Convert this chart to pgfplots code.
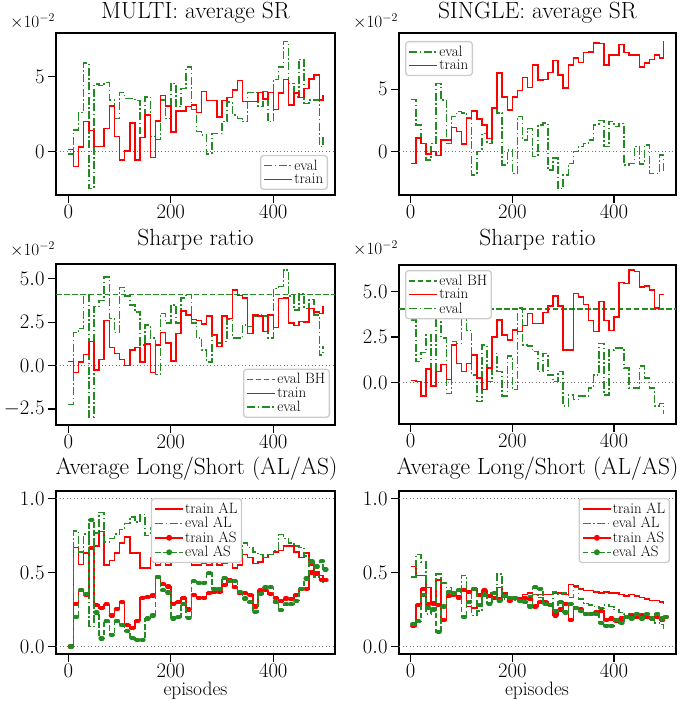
\documentclass[border=0pt]{standalone}
\usepackage{pgfplots}
\pgfplotsset{compat=1.18}
\usepackage{pgfplotstable}
\definecolor{mgreen}{RGB}{34,139,34}
\definecolor{mred}{RGB}{255,0,0}

% ---------------- data (values of SR in units of 1e-2) ----------------
\pgfplotstableread{
x y
0 0.15
10 -1.0
20 0.3
30 2.0
40 1.4
50 0.35
60 0.35
70 1.55
80 3.05
90 1.0
100 -0.55
110 0.05
120 1.9
130 -0.55
140 0.95
150 2.45
160 -0.4
170 2.05
180 3.75
190 3.05
200 1.3
210 2.7
220 2.7
230 3.0
240 3.1
250 2.6
260 4.0
270 3.4
280 3.4
290 2.3
300 3.4
310 3.6
320 4.1
330 4.75
340 3.35
350 3.35
360 3.35
370 3.95
380 3.5
390 3.95
400 2.8
410 3.9
420 4.8
430 3.1
440 3.9
450 3.6
460 4.2
470 4.85
480 5.1
490 3.45
497 3.75
}\PAtrain
\pgfplotstableread{
x y
0 -0.15
10 1.45
20 2.6
30 5.9
40 -2.45
50 4.5
60 4.4
70 4.6
80 3.45
90 2.2
100 3.95
110 3.55
120 3.55
130 3.4
140 1.2
150 3.65
160 1.0
170 0.8
180 3.45
190 2.2
200 4.55
210 3.0
220 4.2
230 5.65
240 2.8
250 1.35
260 1.1
270 -0.15
280 1.2
290 1.2
300 2.0
310 3.3
320 2.45
330 2.2
340 2.0
350 3.95
360 3.95
370 3.0
380 4.0
390 2.0
400 4.8
410 5.65
420 7.35
430 4.55
440 3.65
450 6.15
460 3.2
470 3.45
480 3.45
490 0.35
497 0.95
}\PAeval
\pgfplotstableread{
x y
0 -0.95
10 1.1
20 0.65
30 -0.2
40 0.0
50 -0.3
60 0.95
70 0.95
80 1.95
90 1.6
100 0.6
110 2.65
120 3.25
130 2.6
140 2.15
150 1.05
160 3.5
170 6.3
180 4.4
190 3.35
200 4.4
210 4.9
220 5.95
230 5.15
240 6.95
250 5.75
260 5.8
270 6.35
280 7.3
290 6.15
300 5.1
310 6.95
320 7.5
330 7.15
340 7.95
350 8.0
360 8.7
370 8.65
380 6.95
390 7.75
400 7.75
410 8.6
420 7.95
430 7.75
440 7.75
450 6.8
460 7.1
470 7.4
480 7.75
490 7.5
497 8.9
}\PBtrain
\pgfplotstableread{
x y
0 4.2
10 2.15
20 0.65
30 -0.65
40 0.65
50 5.45
60 4.15
70 0.65
80 2.8
90 3.2
100 3.1
110 2.7
120 -1.85
130 0.0
140 1.45
150 0.65
160 3.5
170 3.1
180 -1.05
190 0.15
200 -1.75
210 2.8
220 0.95
230 1.85
240 -0.4
250 2.15
260 2.3
270 -1.45
280 -0.5
290 -2.95
300 -1.85
310 -0.95
320 0.0
330 0.4
340 0.65
350 0.95
360 2.15
370 2.5
380 0.4
390 2.4
400 2.0
410 2.25
420 -1.05
430 -0.95
440 0.4
450 -1.0
460 0.55
470 -1.75
480 -1.75
490 -0.25
497 -1.6
}\PBeval
\pgfplotstableread{
x y
0 0.23
10 -0.4
20 0.2
30 0.65
40 1.4
50 -0.25
60 0.35
70 2.6
80 1.05
90 0.7
100 0.35
110 0.0
120 0.9
130 1.05
140 0.2
150 1.25
160 -0.4
170 1.2
180 1.9
190 1.3
200 0.27
210 1.85
220 3.15
230 2.9
240 2.65
250 2.6
260 2.4
270 2.85
280 1.8
290 1.1
300 2.85
310 2.7
320 4.35
330 4.05
340 3.9
350 1.85
360 2.9
370 2.85
380 1.95
390 2.9
400 2.2
410 3.85
420 3.9
430 2.45
440 2.3
450 2.55
460 2.5
470 3.3
480 3.1
490 3.0
497 3.45
}\PCtrain
\pgfplotstableread{
x y
0 -2.25
10 1.9
20 2.15
30 4.1
40 -2.95
50 3.4
60 3.75
70 5.1
80 2.7
90 1.9
100 4.5
110 4.0
120 3.5
130 3.1
140 1.2
150 2.35
160 1.6
170 -0.5
180 3.0
190 2.45
200 3.5
210 2.45
220 3.9
230 4.1
240 2.45
250 1.6
260 0.9
270 0.2
280 1.75
290 1.3
300 1.4
310 2.65
320 1.6
330 1.6
340 2.35
350 2.25
360 2.85
370 2.9
380 2.85
390 1.6
400 4.45
410 4.55
420 5.5
430 4.0
440 3.2
450 4.15
460 3.3
470 3.8
480 2.9
490 0.6
497 1.1
}\PCeval
\pgfplotstableread{
x y
0 0.1
10 0.05
20 -0.75
30 0.75
40 -0.2
50 0.6
60 1.0
70 0.15
80 2.05
90 1.05
100 0.6
110 1.05
120 1.5
130 0.25
140 -0.4
150 0.8
160 2.5
170 3.45
180 2.6
190 2.35
200 2.9
210 2.8
220 3.15
230 3.8
240 3.25
250 3.25
260 3.85
270 4.2
280 4.75
290 4.2
300 1.8
310 1.8
320 4.9
330 4.7
340 4.3
350 3.4
360 2.8
370 4.45
380 3.4
390 2.85
400 3.6
410 5.5
420 5.45
430 6.2
440 6.1
450 5.25
460 5.3
470 5.1
480 4.1
490 4.85
497 4.8
}\PDtrain
\pgfplotstableread{
x y
0 3.45
10 1.15
20 1.65
30 2.6
40 -0.2
50 4.55
60 2.45
70 -0.6
80 2.25
90 2.15
100 3.85
110 2.85
120 0.4
130 -1.05
140 2.05
150 0.05
160 1.6
170 0.6
180 -0.75
190 1.45
200 -0.4
210 4.1
220 2.05
230 2.0
240 1.7
250 0.6
260 1.6
270 0.4
280 0.05
290 0.6
300 -1.3
310 -0.7
320 -0.95
330 -0.75
340 -0.75
350 -0.3
360 0.4
370 2.15
380 -0.7
390 1.8
400 1.9
410 1.9
420 0.8
430 -0.3
440 -0.3
450 0.9
460 0.25
470 -0.3
480 -1.3
490 -1.15
497 -1.75
}\PDeval
% ---------------- Long / Short ----------------
\pgfplotstableread{
x y
0 0.0
10 0.67
20 0.555
30 0.63
40 0.665
50 0.68
60 0.775
70 0.55
80 0.58
90 0.63
100 0.70
110 0.74
120 0.63
130 0.63
140 0.53
150 0.53
160 0.6
170 0.55
180 0.58
190 0.55
200 0.6
210 0.62
220 0.64
230 0.6
240 0.55
250 0.55
260 0.56
270 0.55
280 0.57
290 0.55
300 0.56
310 0.57
320 0.53
330 0.55
340 0.62
350 0.6
360 0.56
370 0.57
380 0.6
390 0.62
400 0.64
410 0.65
420 0.68
430 0.68
440 0.64
450 0.6
460 0.63
470 0.55
480 0.505
490 0.48
497 0.45
}\PEtrainAL
\pgfplotstableread{
x y
0 0.0
10 0.78
20 0.64
30 0.76
40 0.135
50 0.765
60 0.905
70 0.705
80 0.73
90 0.76
100 0.79
110 0.83
120 0.875
130 0.84
140 0.89
150 0.75
160 0.8
170 0.78
180 0.76
190 0.75
200 0.72
210 0.74
220 0.75
230 0.7
240 0.65
250 0.62
260 0.6
270 0.6
280 0.62
290 0.6
300 0.58
310 0.6
320 0.6
330 0.61
340 0.7
350 0.67
360 0.64
370 0.62
380 0.6
390 0.62
400 0.65
410 0.755
420 0.73
430 0.7
440 0.68
450 0.67
460 0.61
470 0.56
480 0.47
490 0.45
497 0.43
}\PEevalAL
\pgfplotstableread{
x y
0 0.0
10 0.29
20 0.38
30 0.35
40 0.665
50 0.28
60 0.26
70 0.285
80 0.21
90 0.255
100 0.3
110 0.145
120 0.125
130 0.175
140 0.33
150 0.335
160 0.345
170 0.47
180 0.42
190 0.405
200 0.29
210 0.3
220 0.33
230 0.25
240 0.35
250 0.33
260 0.33
270 0.36
280 0.37
290 0.37
300 0.415
310 0.45
320 0.4
330 0.36
340 0.36
350 0.35
360 0.27
370 0.38
380 0.38
390 0.355
400 0.33
410 0.305
420 0.325
430 0.32
440 0.35
450 0.39
460 0.39
470 0.5
480 0.49
490 0.45
497 0.45
}\PEtrainAS
\pgfplotstableread{
x y
0 0.0
10 0.2
20 0.38
30 0.355
40 0.855
50 0.23
60 0.055
70 0.175
80 0.08
90 0.175
100 0.145
110 0.105
120 0.06
130 0.045
140 0.045
150 0.19
160 0.21
170 0.47
180 0.38
190 0.365
200 0.19
210 0.2
220 0.29
230 0.195
240 0.44
250 0.43
260 0.43
270 0.495
280 0.39
290 0.39
300 0.465
310 0.44
320 0.44
330 0.37
340 0.325
350 0.3
360 0.235
370 0.355
380 0.4
390 0.4
400 0.3
410 0.245
420 0.285
430 0.285
440 0.31
450 0.39
460 0.46
470 0.575
480 0.54
490 0.575
497 0.52
}\PEevalAS
\pgfplotstableread{
x y
0 0.54
10 0.48
20 0.48
30 0.40
40 0.30
50 0.45
60 0.18
70 0.34
80 0.35
90 0.34
100 0.38
110 0.27
120 0.26
130 0.27
140 0.38
150 0.33
160 0.32
170 0.40
180 0.36
190 0.33
200 0.33
210 0.33
220 0.35
230 0.36
240 0.35
250 0.35
260 0.35
270 0.35
280 0.36
290 0.36
300 0.35
310 0.42
320 0.41
330 0.39
340 0.38
350 0.38
360 0.37
370 0.36
380 0.37
390 0.36
400 0.36
410 0.35
420 0.34
430 0.35
440 0.34
450 0.33
460 0.32
470 0.31
480 0.31
490 0.30
497 0.29
}\PFtrainAL
\pgfplotstableread{
x y
0 0.47
10 0.62
20 0.57
30 0.22
40 0.25
50 0.49
60 0.43
70 0.40
80 0.37
90 0.37
100 0.48
110 0.36
120 0.21
130 0.24
140 0.37
150 0.36
160 0.36
170 0.49
180 0.32
190 0.33
200 0.31
210 0.32
220 0.33
230 0.34
240 0.35
250 0.33
260 0.31
270 0.29
280 0.37
290 0.35
300 0.36
310 0.33
320 0.40
330 0.32
340 0.29
350 0.28
360 0.27
370 0.26
380 0.28
390 0.27
400 0.25
410 0.23
420 0.22
430 0.21
440 0.20
450 0.20
460 0.19
470 0.18
480 0.16
490 0.15
497 0.12
}\PFevalAL
\pgfplotstableread{
x y
0 0.14
10 0.28
20 0.39
30 0.29
40 0.29
50 0.28
60 0.18
70 0.34
80 0.35
90 0.33
100 0.38
110 0.37
120 0.39
130 0.35
140 0.38
150 0.34
160 0.33
170 0.32
180 0.34
190 0.31
200 0.33
210 0.32
220 0.33
230 0.32
240 0.27
250 0.30
260 0.30
270 0.28
280 0.21
290 0.25
300 0.29
310 0.18
320 0.26
330 0.25
340 0.22
350 0.22
360 0.23
370 0.24
380 0.18
390 0.19
400 0.17
410 0.19
420 0.20
430 0.21
440 0.20
450 0.21
460 0.20
470 0.19
480 0.20
490 0.18
497 0.20
}\PFtrainAS
\pgfplotstableread{
x y
0 0.15
10 0.17
20 0.35
30 0.26
40 0.25
50 0.10
60 0.27
70 0.37
80 0.36
90 0.38
100 0.20
110 0.30
120 0.39
130 0.28
140 0.35
150 0.29
160 0.36
170 0.31
180 0.34
190 0.33
200 0.33
210 0.31
220 0.30
230 0.27
240 0.40
250 0.39
260 0.29
270 0.28
280 0.24
290 0.30
300 0.23
310 0.29
320 0.26
330 0.24
340 0.22
350 0.22
360 0.22
370 0.16
380 0.14
390 0.14
400 0.18
410 0.16
420 0.20
430 0.19
440 0.22
450 0.19
460 0.22
470 0.19
480 0.22
490 0.19
497 0.20
}\PFevalAS

\pgfplotsset{
  trl/.style={draw=mred, color=mred, line width=1.5bp, solid},
  evl/.style={draw=mgreen, color=mgreen, line width=1.5bp, dash pattern=on 8bp off 2.5bp on 1.5bp off 2.5bp},
  bhl/.style={draw=mgreen, color=mgreen, line width=1.5bp, dash pattern=on 5.5bp off 2.6bp},
  asl/.style={draw=mgreen, color=mgreen, line width=1.5bp, dash pattern=on 5.5bp off 2.6bp},
  zl/.style={black!55, line width=1.1bp, dash pattern=on 1.2bp off 2.3bp, forget plot},
  blob/.style={line width=4.2bp, line cap=round, quiver={u=4,v=0}, -, forget plot},
  base/.style={
    scale only axis,
    height=162bp,
    axis line style={line width=1.3bp, black},
    tick pos=left, tick align=outside,
    major tick length=8bp,
    tick style={black, line width=1.2bp},
    xtick={0,200,400},
    scaled y ticks=false,
    tick label style={font=\fontsize{20}{24}\selectfont},
    xticklabel style={yshift=1.5bp},
    legend style={font=\fontsize{15}{17}\selectfont, draw=black!20, fill=white,
      rounded corners=3bp,
      line width=1.3bp, inner xsep=3bp, inner ysep=3bp,
      nodes={inner sep=1.2bp}},
    legend cell align=left,
  },
  leftcol/.style={base, width=279bp, xmin=-24, xmax=520.5},
  rightcol/.style={base, width=277bp, xmin=-23, xmax=522},
  onedec/.style={yticklabel style={/pgf/number format/fixed, /pgf/number format/fixed zerofill, /pgf/number format/precision=1}},
  legtr/.style={legend image code/.code={\draw[mred, line width=1.5bp, solid] (0bp,0bp) -- (28bp,0bp);}},
  legev/.style={legend image code/.code={\draw[mgreen, line width=1.5bp, dash pattern=on 8bp off 2.5bp on 1.5bp off 2.5bp] (0bp,0bp) -- (28bp,0bp);}},
  legbh/.style={legend image code/.code={\draw[mgreen, line width=1.5bp, dash pattern=on 5.5bp off 2.6bp] (0bp,0bp) -- (28bp,0bp);}},
  legtras/.style={legend image code/.code={\draw[mred, line width=1.5bp, solid] (0bp,0bp) -- (28bp,0bp); \fill[mred] (14bp,0bp) circle (2.3bp);}},
  legevas/.style={legend image code/.code={\draw[mgreen, line width=1.5bp, dash pattern=on 5.5bp off 2.6bp] (0bp,0bp) -- (28bp,0bp); \fill[mgreen] (14bp,0bp) circle (2.3bp);}},
}

\begin{document}
\begin{tikzpicture}
\useasboundingbox (0,0) rectangle (685bp,701bp);

% ===== Panel 1 =====
\begin{axis}[leftcol, at={(56bp,506bp)}, anchor=south west,
  ymin=-2.887, ymax=7.913, ytick={0,5},
  legend style={at={(1,0)}, anchor=south east, xshift=-7bp, yshift=5bp}]
\addplot[zl] coordinates {(-24,0) (520.5,0)};
\addplot[evl, const plot, forget plot] table {\PAeval};
\addplot[trl, const plot, forget plot] table {\PAtrain};
\addlegendimage{legev}\addlegendentry{eval}
\addlegendimage{legtr}\addlegendentry{train}
\end{axis}

% ===== Panel 2 =====
\begin{axis}[rightcol, at={(399bp,506bp)}, anchor=south west,
  ymin=-3.47, ymax=9.51, ytick={0,5},
  legend style={at={(0,1)}, anchor=north west, xshift=6bp, yshift=-8bp}]
\addplot[zl] coordinates {(-23,0) (522,0)};
\addplot[evl, const plot, forget plot] table {\PBeval};
\addplot[trl, const plot, forget plot] table {\PBtrain};
\addlegendimage{legev}\addlegendentry{eval}
\addlegendimage{legtr}\addlegendentry{train}
\end{axis}

% ===== Panel 3 =====
\begin{axis}[leftcol, onedec, at={(56bp,276bp)}, anchor=south west, height=161bp,
  ymin=-3.42, ymax=5.85, ytick={-2.5,0,2.5,5},
  legend style={at={(1,0)}, anchor=south east, xshift=-5bp, yshift=7bp}]
\addplot[zl] coordinates {(-24,0) (520.5,0)};
\addplot[bhl, forget plot] coordinates {(-24,4.08) (520.5,4.08)};
\addplot[evl, const plot, forget plot] table {\PCeval};
\addplot[trl, const plot, forget plot] table {\PCtrain};
\addlegendimage{legbh}\addlegendentry{eval BH}
\addlegendimage{legtr}\addlegendentry{train}
\addlegendimage{legev}\addlegendentry{eval}
\end{axis}

% ===== Panel 4 =====
\begin{axis}[rightcol, onedec, at={(399bp,277bp)}, anchor=south west, height=159bp,
  ymin=-2.29, ymax=6.47, ytick={0,2.5,5},
  legend style={at={(0,1)}, anchor=north west, xshift=6bp, yshift=-5bp}]
\addplot[zl] coordinates {(-23,0) (522,0)};
\addplot[bhl, forget plot] coordinates {(-23,4.05) (522,4.05)};
\addplot[evl, const plot, forget plot] table {\PDeval};
\addplot[trl, const plot, forget plot] table {\PDtrain};
\addlegendimage{legbh}\addlegendentry{eval BH}
\addlegendimage{legtr}\addlegendentry{train}
\addlegendimage{legev}\addlegendentry{eval}
\end{axis}

% ===== Panel 5 =====
\begin{axis}[leftcol, onedec, at={(56bp,47bp)}, anchor=south west, height=163bp,
  ymin=-0.05, ymax=1.05, ytick={0,0.5,1},
  legend style={at={(0.5,1)}, anchor=north, xshift=1bp, yshift=-7bp}]
\addplot[zl] coordinates {(-24,0) (520.5,0)};
\addplot[zl] coordinates {(-24,1) (520.5,1)};
\addplot[trl, const plot, forget plot] table {\PEtrainAL};
\addplot[evl, const plot, forget plot] table {\PEevalAL};
\addplot[mred, blob] table[x expr=\thisrow{x}+3, y=y] {\PEtrainAS};
\addplot[trl, const plot, forget plot] table {\PEtrainAS};
\addplot[mgreen, blob] table[x expr=\thisrow{x}+3, y=y] {\PEevalAS};
\addplot[asl, const plot, forget plot] table {\PEevalAS};
\addlegendimage{legtr}\addlegendentry{train AL}
\addlegendimage{legev}\addlegendentry{eval AL}
\addlegendimage{legtras}\addlegendentry{train AS}
\addlegendimage{legevas}\addlegendentry{eval AS}
\end{axis}

% ===== Panel 6 =====
\begin{axis}[rightcol, onedec, at={(399bp,47bp)}, anchor=south west, height=163bp,
  ymin=-0.05, ymax=1.05, ytick={0,0.5,1},
  legend style={at={(1,1)}, anchor=north east, xshift=-6bp, yshift=-7bp}]
\addplot[zl] coordinates {(-23,0) (522,0)};
\addplot[zl] coordinates {(-23,1) (522,1)};
\addplot[trl, const plot, forget plot] table {\PFtrainAL};
\addplot[evl, const plot, forget plot] table {\PFevalAL};
\addplot[mred, blob] table[x expr=\thisrow{x}+3, y=y] {\PFtrainAS};
\addplot[trl, const plot, forget plot] table {\PFtrainAS};
\addplot[mgreen, blob] table[x expr=\thisrow{x}+3, y=y] {\PFevalAS};
\addplot[asl, const plot, forget plot] table {\PFevalAS};
\addlegendimage{legtr}\addlegendentry{train AL}
\addlegendimage{legev}\addlegendentry{eval AL}
\addlegendimage{legtras}\addlegendentry{train AS}
\addlegendimage{legevas}\addlegendentry{eval AS}
\end{axis}

% ===== titles, offset labels, axis labels =====
\begin{scope}[every node/.style={inner sep=0pt}]
\node[anchor=base, font=\fontsize{23.5}{25}\selectfont] at (195.5bp,682.5bp) {MULTI: average SR};
\node[anchor=base, font=\fontsize{23.5}{25}\selectfont] at (537.5bp,682.5bp) {SINGLE: average SR};
\node[anchor=base, font=\fontsize{23.5}{25}\selectfont] at (195.5bp,455bp) {Sharpe ratio};
\node[anchor=base, font=\fontsize{23.5}{25}\selectfont] at (537.5bp,455bp) {Sharpe ratio};
\node[anchor=base, font=\fontsize{23.5}{25}\selectfont] at (196.5bp,226bp) {Average Long/Short (AL/AS)};
\node[anchor=base, font=\fontsize{23.5}{25}\selectfont] at (537.5bp,226bp) {Average Long/Short (AL/AS)};
\node[anchor=base west, font=\fontsize{17}{18}\selectfont] at (10bp,673bp) {$\times10^{-2}$};
\node[anchor=base west, font=\fontsize{17}{18}\selectfont] at (353bp,673bp) {$\times10^{-2}$};
\node[anchor=base west, font=\fontsize{17}{18}\selectfont] at (10bp,445bp) {$\times10^{-2}$};
\node[anchor=base west, font=\fontsize{17}{18}\selectfont] at (353bp,446bp) {$\times10^{-2}$};
\node[anchor=base, font=\fontsize{19.5}{22}\selectfont] at (195.5bp,5.5bp) {episodes};
\node[anchor=base, font=\fontsize{19.5}{22}\selectfont] at (537bp,5.5bp) {episodes};
\end{scope}
\end{tikzpicture}
\end{document}
